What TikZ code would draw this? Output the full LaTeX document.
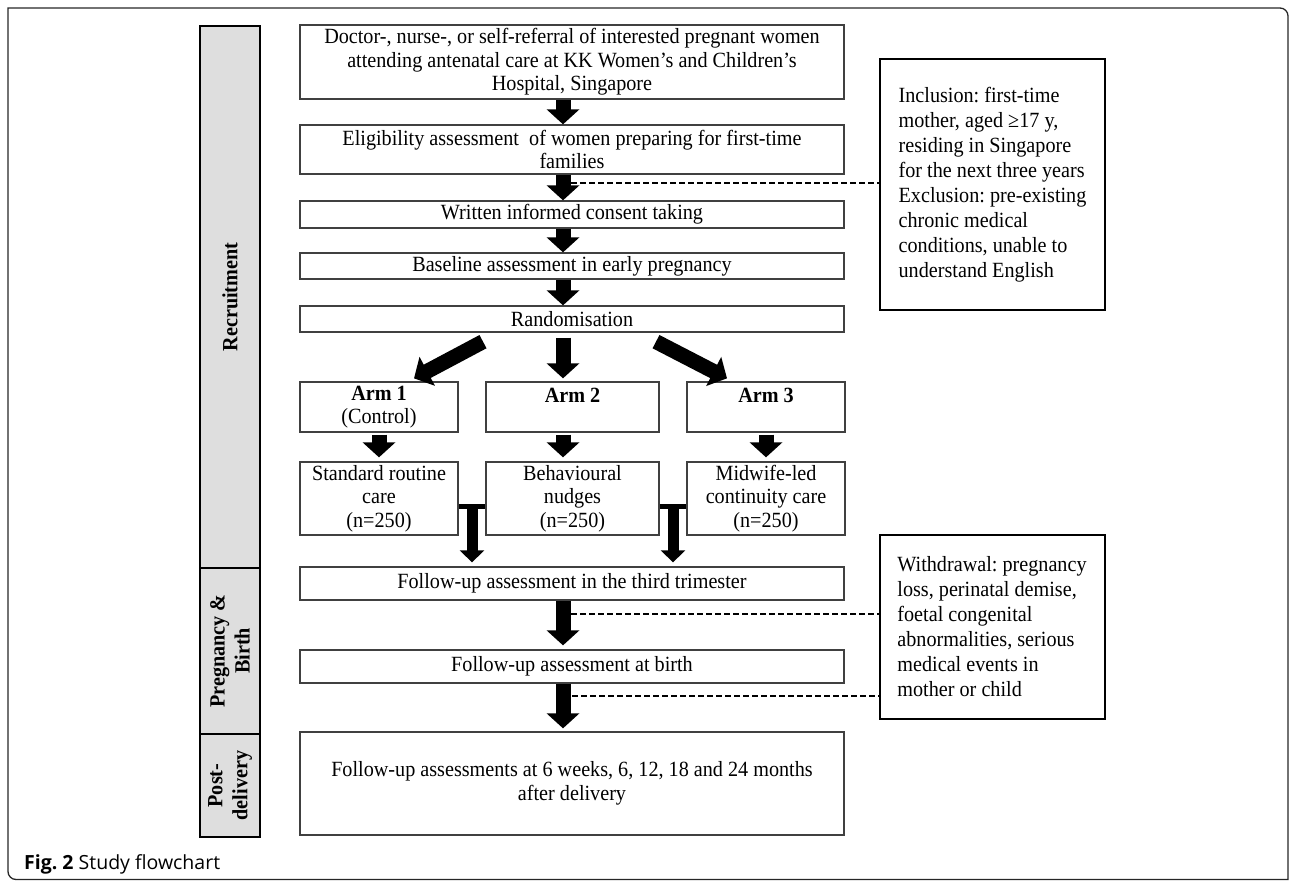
\documentclass[tikz,border=0pt]{standalone}
\usepackage{fontspec}
\setmainfont{Liberation Serif}[FakeStretch=0.93]
\newfontfamily\capfont{Open Sans}
\usetikzlibrary{arrows.meta,calc}
\frenchspacing
\begin{document}
\begin{tikzpicture}[x=1pt,y=-1pt,
  box/.style={draw=black!75,line width=1.3pt,align=center,inner sep=0pt,font=\fontsize{21.7}{23.5}\selectfont},
  wide/.style={box,minimum width=544pt},
  arm/.style={box,minimum height=50pt},
  care/.style={box,minimum height=73pt},
  note/.style={draw=black,line width=2pt,align=left,inner sep=0pt,minimum width=225pt,font=\fontsize{21.7}{25}\selectfont},
  phase/.style={draw=black,line width=2.6pt,fill=black!13,rotate=90,align=center,minimum height=60pt,inner sep=0pt,font=\bfseries\fontsize{21.7}{25}\selectfont},
  fat/.style={line width=15pt,-{Triangle[width=32pt,length=15pt]}},
  slim/.style={line width=11pt,-{Triangle[width=24pt,length=12pt]}},
  dashline/.style={line width=1.4pt,dash pattern=on 6pt off 3pt},
  ]
\useasboundingbox (0,0) rectangle (1290,881);
\draw[line width=1.3pt,black!85] (8,8) -- (1280,8) arc[start angle=-90,end angle=0,radius=8] -- (1288,879.5) -- (16,879.5) arc[start angle=90,end angle=180,radius=8] -- cycle;
\node[phase,minimum width=542pt] (rec) at (230,297) {Recruitment};
\node[phase,minimum width=166pt] (preg) at (230,651) {Pregnancy \&\\Birth};
\node[phase,minimum width=103pt] (post) at (230,785.5) {Post-\\delivery};
\node[wide,minimum height=74pt] (ref) at (572,62) {Doctor-, nurse-, or self-referral of interested pregnant women\\attending antenatal care at KK Women’s and Children’s\\Hospital, Singapore};
\node[wide,minimum height=49pt] (elig) at (572,149.5) {Eligibility assessment~ of women preparing for first-time\\families};
\node[wide,minimum height=27pt] (cons) at (572,214.5) {Written informed consent taking};
\node[wide,minimum height=26pt] (base) at (572,266) {Baseline assessment in early pregnancy};
\node[wide,minimum height=26pt] (rand) at (572,319) {Randomisation};
\node[arm,minimum width=158pt] (arm1) at (379,407) {\textbf{Arm 1}\\(Control)};
\node[arm,minimum width=173pt] (arm2) at (572.5,407) {\textbf{Arm 2}\\\mbox{}};
\node[arm,minimum width=158pt] (arm3) at (766,407) {\textbf{Arm 3}\\\mbox{}};
\node[care,minimum width=158pt] (care1) at (379,498.5) {Standard routine\\care\\(n=250)};
\node[care,minimum width=173pt] (care2) at (572.5,498.5) {Behavioural\\nudges\\(n=250)};
\node[care,minimum width=158pt] (care3) at (766,498.5) {Midwife-led\\continuity care\\(n=250)};
\node[wide,minimum height=33pt] (fu3) at (572,583.5) {Follow-up assessment in the third trimester};
\node[wide,minimum height=33pt] (fub) at (572,666.5) {Follow-up assessment at birth};
\node[wide,minimum height=103pt] (fupd) at (572,783.5) {Follow-up assessments at 6 weeks, 6, 12, 18 and 24 months\\after delivery};
\node[note,minimum height=251pt] (incl) at (992.5,184.5) {Inclusion: first-time\\mother, aged ≥17 y,\\residing in Singapore\\for the next three years\\Exclusion: pre-existing\\chronic medical\\conditions, unable to\\understand English};
\node[note,minimum height=184pt] (withd) at (992,627) {Withdrawal: pregnancy\\loss, perinatal demise,\\foetal congenital\\abnormalities, serious\\medical events in\\mother or child};
\node[anchor=base west,inner sep=0pt,font=\capfont\fontsize{19.5}{22}\selectfont] (cap) at (24,869) {\textbf{Fig. 2} Study flowchart};
\coordinate (ax) at (563,0);
\draw[fat] (ref.south -| ax) -- (elig.north -| ax);
\draw[fat] (elig.south -| ax) -- (cons.north -| ax);
\draw[fat] (cons.south -| ax) -- (base.north -| ax);
\draw[fat] (base.south -| ax) -- (rand.north -| ax);
\draw[fat] ($(rand.south)+(-89,9)$) -- ($(arm1.north)+(35,-3)$);
\draw[fat] ($(rand.south -| ax)+(0,5)$) -- ($(arm2.north -| ax)+(0,-3)$);
\draw[fat] ($(rand.south)+(84,9)$) -- ($(arm3.north)+(-39,-3)$);
\draw[fat,shorten <=2pt,shorten >=4pt] (arm1.south) -- (care1.north);
\draw[fat,shorten <=2pt,shorten >=4pt] (arm2.south -| ax) -- (care2.north -| ax);
\draw[fat,shorten <=2pt,shorten >=4pt] (arm3.south) -- (care3.north);
\coordinate (t1) at ($(care1.east)!.5!(care2.west)$);
\coordinate (t2) at ($(care2.east)!.5!(care3.west)$);
\draw[line width=5pt] ([yshift=-7.5pt]care1.east) -- ([yshift=-7.5pt]care2.west);
\draw[line width=5pt] ([yshift=-7.5pt]care2.east) -- ([yshift=-7.5pt]care3.west);
\draw[slim,shorten >=4pt] ([yshift=-7.5pt]t1) -- (t1 |- fu3.north);
\draw[slim,shorten >=4pt] ([yshift=-7.5pt]t2) -- (t2 |- fu3.north);
\draw[fat,shorten >=4pt] (fu3.south -| ax) -- (fub.north -| ax);
\draw[fat,shorten >=3pt] (fub.south -| ax) -- (fupd.north -| ax);
\coordinate (d1) at (571,183);
\coordinate (d2) at (571,614);
\coordinate (d3) at (572,696);
\draw[dashline] (d1) -- (d1 -| incl.west);
\draw[dashline] (d2) -- (d2 -| withd.west);
\draw[dashline] (d3) -- (d3 -| withd.west);
\end{tikzpicture}
\end{document}
